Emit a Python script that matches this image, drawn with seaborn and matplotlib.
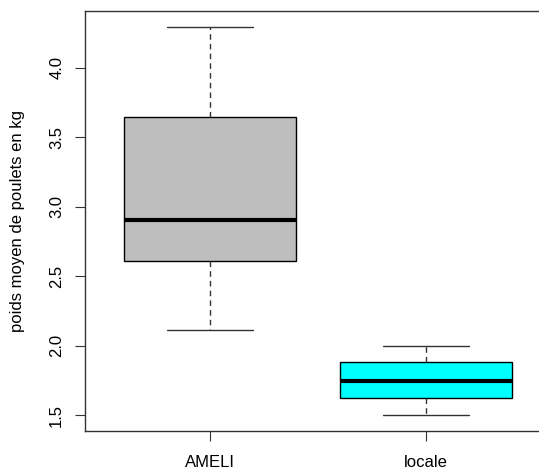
import pandas as pd
import matplotlib
matplotlib.use("Agg")
import matplotlib.pyplot as plt
import seaborn as sns

# five-number summaries (min, Q1, median, Q3, max)
ameli = [2.11, 2.61, 2.90, 3.645, 4.29]
locale = [1.50, 1.62, 1.745, 1.88, 2.00]
groups = ["AMELI", "locale"]
colors = ["#BEBEBE", "#00FFFF"]

df = pd.DataFrame({
    "groupe": ["AMELI"] * len(ameli) + ["locale"] * len(locale),
    "poids": ameli + locale,
})

sns.set_style("white")
plt.rcParams['font.family'] = ['Liberation Sans', 'DejaVu Sans']
plt.rcParams['text.color'] = 'black'
plt.rcParams['axes.labelcolor'] = 'black'
plt.rcParams['xtick.labelcolor'] = 'black'
plt.rcParams['ytick.labelcolor'] = 'black'

fig = plt.figure(figsize=(5.39, 4.73), dpi=100)
ax = fig.add_axes([0.1577, 0.0888, 0.8646, 0.888])

sns.boxplot(data=df, x="groupe", y="poids", hue="groupe", order=groups,
            palette=colors, width=0.8, whis=10, linewidth=1.0, linecolor="black",
            saturation=1, legend=False, ax=ax,
            whiskerprops=dict(linestyle=(0, (4, 3)), color="#333333", linewidth=1.0),
            capprops=dict(color="#333333", linewidth=1.0),
            medianprops=dict(color="black", linewidth=3.0),
            boxprops=dict(edgecolor="black", linewidth=1.0))

ax.set_xlim(-0.58, 1.58)
ax.set_ylim(1.385, 4.408)
ax.set_yticks([1.5, 2.0, 2.5, 3.0, 3.5, 4.0])
ax.set_yticklabels(["1.5", "2.0", "2.5", "3.0", "3.5", "4.0"], rotation=90, va="center")
ax.set_xlabel("")
ax.set_ylabel("poids moyen de poulets en kg", fontsize=12, color="black")
ax.yaxis.set_label_coords(-0.128, 0.5)
ax.tick_params(axis="both", labelsize=12, length=7, width=0.8, color="#333333",
               labelcolor="black", direction="out", left=True, bottom=True)
ax.tick_params(axis="y", pad=8)
ax.tick_params(axis="x", pad=10)
for s in ax.spines.values():
    s.set_color("#333333")
    s.set_linewidth(1.0)
    s.set_visible(True)

fig.savefig("out.png", dpi=100)
